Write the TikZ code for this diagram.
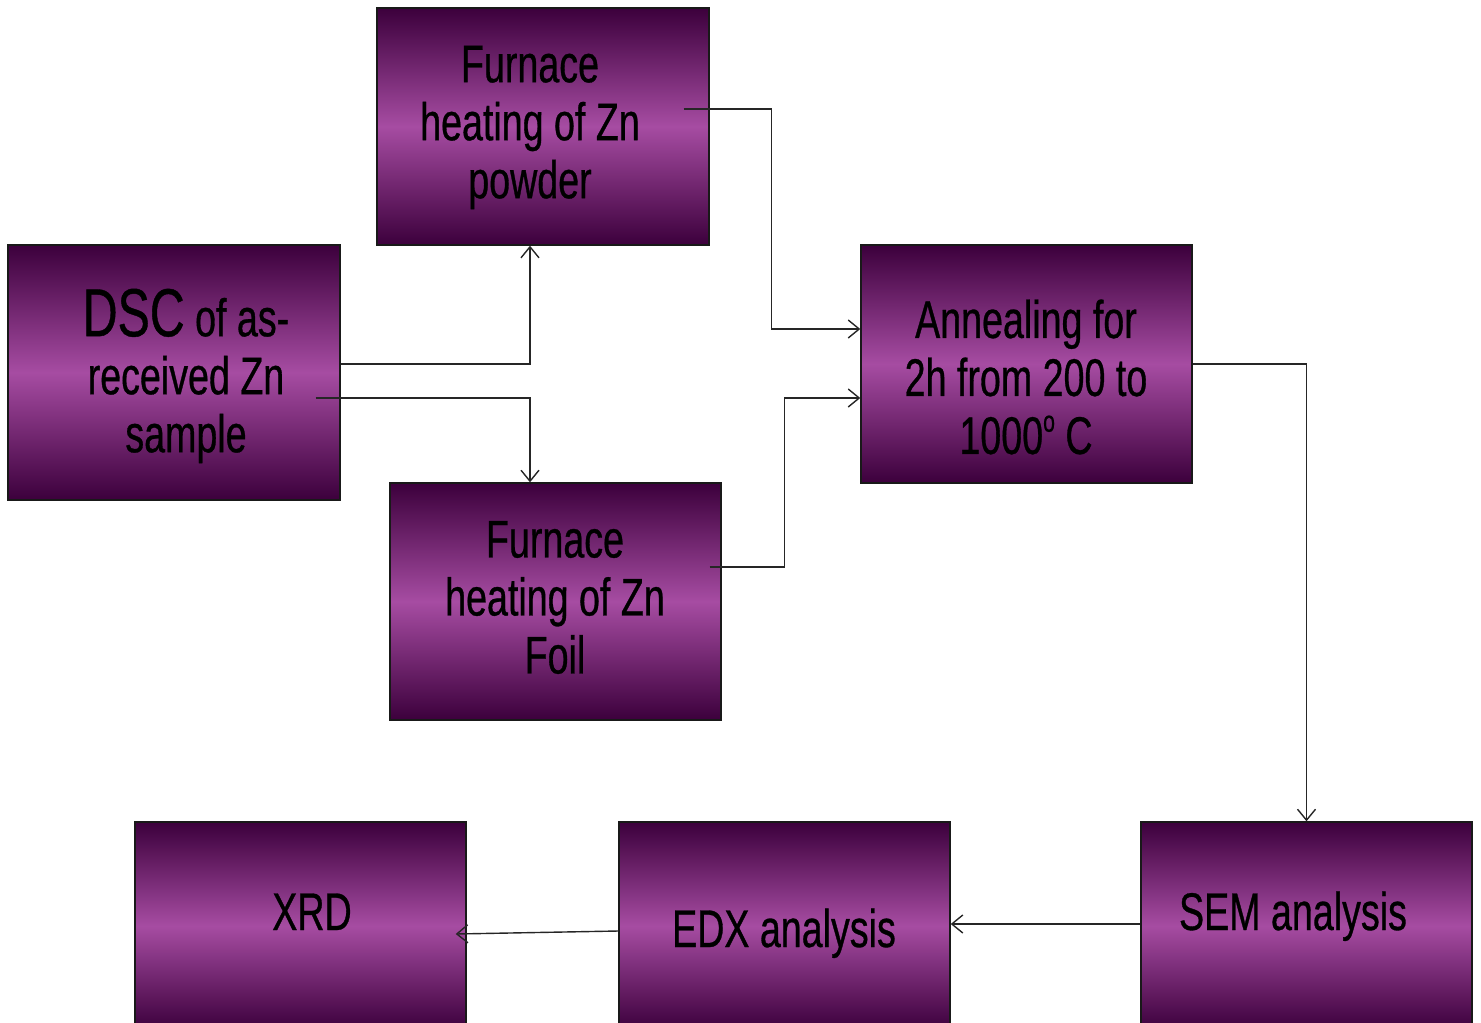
\documentclass[tikz,border=0pt]{standalone}
\usepackage{fontspec}
\setmainfont{Liberation Sans}[FakeStretch=0.71,FakeBold=0.6]
\usetikzlibrary{arrows.meta,calc}
\definecolor{dk}{RGB}{60,0,60}
\definecolor{md}{RGB}{166,76,162}
\begin{document}
\begin{tikzpicture}[x=1pt,y=1pt,
  box/.style={draw=black!90,line width=1.4pt,top color=dk,bottom color=dk,middle color=md,inner sep=0pt},
  txt/.style={align=center,inner sep=0pt,font=\fontsize{53}{58}\selectfont,text=black},
  arr/.style={draw=black!85,line width=1.4pt,-{Straight Barb[length=11pt,width=18pt,line width=1.4pt]}}]
\useasboundingbox (0,0) rectangle (1481,-1023);
\clip (0,0) rectangle (1481,-1023);
% boxes
\node[box,minimum width=332pt,minimum height=237pt] (fp) at (543,-126.5) {};
\node[box,minimum width=332pt,minimum height=255pt] (dsc) at (174,-372.5) {};
\node[box,minimum width=331pt,minimum height=237pt] (ff) at (555.5,-601.5) {};
\node[box,minimum width=331pt,minimum height=238pt] (an) at (1026.5,-364) {};
\node[box,minimum width=331pt,minimum height=208pt] (xrd) at (300.5,-926) {};
\node[box,minimum width=331pt,minimum height=208pt] (edx) at (784.5,-926) {};
\node[box,minimum width=331pt,minimum height=208pt] (sem) at (1306.5,-926) {};
% texts
\node[txt] (fpt) at (530,-127.5) {Furnace\\heating of Zn\\powder};
\node[txt] (dsct) at (186,-376) {{\fontsize{68}{58}\selectfont DSC} of as-\\received Zn\\sample};
\node[txt] (fft) at (555,-597.5) {Furnace\\heating of Zn\\Foil};
\node[txt] (ant) at (1026,-377) {Annealing for\\2h from 200 to\\1000\raisebox{0.42em}{\fontsize{30}{30}\selectfont o} C};
\node[txt,anchor=base] (xrdt) at (312,-930) {XRD};
\node[txt,anchor=base] (edxt) at (784,-947) {EDX analysis};
\node[txt,anchor=base] (semt) at (1293,-930) {SEM analysis};
% connectors
\draw[arr] ($(dsc.east)+(0,8.5)$) -| ($(fp.south)+(-13,0)$);
\draw[arr] ($(dsc.east)+(-25,-25.5)$) -| ($(ff.north)+(-25.5,0)$);
\draw[arr] ($(fp.east)+(-26,17.5)$) -- ++(88,0) |- ($(an.west)+(0,35)$);
\draw[arr] ($(ff.east)+(-12,34.5)$) -- ++(75,0) |- ($(an.west)+(0,-34)$);
\draw[arr] (an.east) -| (sem.north);
\draw[arr] ($(sem.west)+(0,2)$) -- ($(edx.east)+(0,2)$);
\draw[arr] ($(edx.west)+(0,-5)$) -- ($(xrd.east)+(-11,-8)$);
\end{tikzpicture}
\end{document}
